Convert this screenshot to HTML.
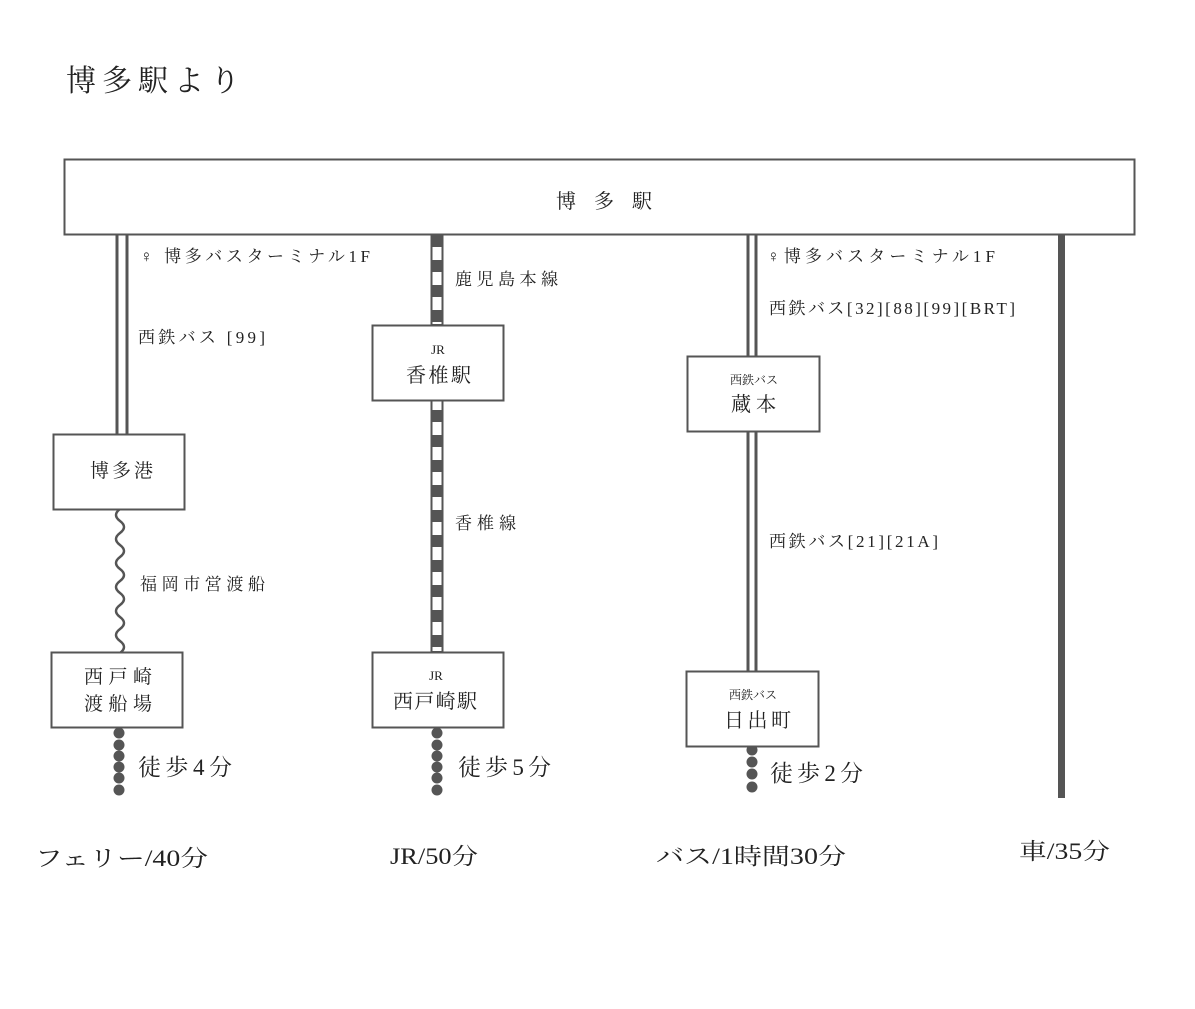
<!DOCTYPE html>
<html><head><meta charset="utf-8"><style>
html,body{margin:0;padding:0;background:#fff}
svg{display:block}
text{font-family:"Liberation Serif","Noto Serif CJK JP","Noto Serif CJK SC",serif;fill:#222}
</style></head><body>
<svg width="1195" height="1009" viewBox="0 0 1195 1009" xmlns="http://www.w3.org/2000/svg">
<defs>
<pattern id="rail" x="0" y="235" width="12" height="25" patternUnits="userSpaceOnUse">
<rect x="0" y="0" width="12" height="12" fill="#555"/>
<rect x="0" y="12" width="12" height="13" fill="#fff"/>
</pattern>
</defs>
<text x="66" y="91" font-size="30" textLength="174" lengthAdjust="spacing">博多駅より</text>
<rect x="64.5" y="159.5" width="1070" height="75" fill="#fff" stroke="#555" stroke-width="2"/>
<text x="556" y="208" font-size="20" textLength="96" lengthAdjust="spacing">博多駅</text>

<g stroke="#555" stroke-width="3">
<line x1="117" y1="235" x2="117" y2="434"/><line x1="127" y1="235" x2="127" y2="434"/>
<line x1="748" y1="235" x2="748" y2="356"/><line x1="756" y1="235" x2="756" y2="356"/>
<line x1="748" y1="431" x2="748" y2="671"/><line x1="756" y1="431" x2="756" y2="671"/>
</g>
<path d="M120 509 q-8 6 0 12 q8 6 0 12 q-8 6 0 12 q8 6 0 12 q-8 6 0 12 q8 6 0 12 q-8 6 0 12 q8 6 0 12 q-8 6 0 12 q8 6 0 12 q-8 6 0 12 q8 6 0 12 l0 11" fill="none" stroke="#555" stroke-width="2.5"/>
<rect x="53.5" y="434.5" width="131" height="75" fill="#fff" stroke="#555" stroke-width="2"/>
<text x="90" y="477" font-size="19" textLength="63" lengthAdjust="spacing">博多港</text>
<rect x="51.5" y="652.5" width="131" height="75" fill="#fff" stroke="#555" stroke-width="2"/>
<text x="84" y="683" font-size="19" textLength="68" lengthAdjust="spacing">西戸崎</text>
<text x="84" y="710" font-size="19" textLength="68" lengthAdjust="spacing">渡船場</text>
<g fill="#555">
<circle cx="119" cy="733" r="5.5"/><circle cx="119" cy="745" r="5.5"/><circle cx="119" cy="756" r="5.5"/><circle cx="119" cy="767" r="5.5"/><circle cx="119" cy="778" r="5.5"/><circle cx="119" cy="790" r="5.5"/>
<circle cx="437" cy="733" r="5.5"/><circle cx="437" cy="745" r="5.5"/><circle cx="437" cy="756" r="5.5"/><circle cx="437" cy="767" r="5.5"/><circle cx="437" cy="778" r="5.5"/><circle cx="437" cy="790" r="5.5"/>
<circle cx="752" cy="750" r="5.5"/><circle cx="752" cy="762" r="5.5"/><circle cx="752" cy="774" r="5.5"/><circle cx="752" cy="787" r="5.5"/>
</g>
<text x="140" y="262" font-size="17" textLength="230" lengthAdjust="spacing">♀ 博多バスターミナル1F</text>
<text x="138" y="343" font-size="17" textLength="127" lengthAdjust="spacing">西鉄バス [99]</text>
<text x="140" y="590" font-size="17" textLength="125" lengthAdjust="spacing">福岡市営渡船</text>
<text x="138" y="775" font-size="23" textLength="94" lengthAdjust="spacing">徒歩4分</text>

<rect x="431.5" y="235" width="11" height="90" fill="url(#rail)" stroke="#555" stroke-width="2"/>
<rect x="431.5" y="400" width="11" height="252" fill="url(#rail)" stroke="#555" stroke-width="2"/>
<rect x="372.5" y="325.5" width="131" height="75" fill="#fff" stroke="#555" stroke-width="2"/>
<text x="438" y="354" font-size="13" text-anchor="middle">JR</text>
<text x="406" y="382" font-size="20" textLength="65" lengthAdjust="spacing">香椎駅</text>
<rect x="372.5" y="652.5" width="131" height="75" fill="#fff" stroke="#555" stroke-width="2"/>
<text x="436" y="680" font-size="13" text-anchor="middle">JR</text>
<text x="393" y="708" font-size="20" textLength="84" lengthAdjust="spacing">西戸崎駅</text>
<text x="455" y="285" font-size="17" textLength="103" lengthAdjust="spacing">鹿児島本線</text>
<text x="455" y="529" font-size="17" textLength="61" lengthAdjust="spacing">香椎線</text>
<text x="458" y="775" font-size="23" textLength="93" lengthAdjust="spacing">徒歩5分</text>

<rect x="687.5" y="356.5" width="132" height="75" fill="#fff" stroke="#555" stroke-width="2"/>
<text x="754" y="384" font-size="12" text-anchor="middle">西鉄バス</text>
<text x="731" y="411" font-size="20" textLength="45" lengthAdjust="spacing">蔵本</text>
<rect x="686.5" y="671.5" width="132" height="75" fill="#fff" stroke="#555" stroke-width="2"/>
<text x="753" y="699" font-size="12" text-anchor="middle">西鉄バス</text>
<text x="724" y="727" font-size="20" textLength="67" lengthAdjust="spacing">日出町</text>
<text x="767" y="262" font-size="17" textLength="228" lengthAdjust="spacing">♀博多バスターミナル1F</text>
<text x="769" y="314" font-size="17" textLength="246" lengthAdjust="spacing">西鉄バス[32][88][99][BRT]</text>
<text x="769" y="547" font-size="17" textLength="169" lengthAdjust="spacing">西鉄バス[21][21A]</text>
<text x="770" y="781" font-size="23" textLength="93" lengthAdjust="spacing">徒歩2分</text>

<rect x="1058" y="235" width="7" height="563" fill="#555"/>

<text x="35" y="866" font-size="23" textLength="173" lengthAdjust="spacingAndGlyphs">フェリー/40分</text>
<text x="390" y="864" font-size="23" textLength="88" lengthAdjust="spacingAndGlyphs">JR/50分</text>
<text x="656" y="864" font-size="23" textLength="190" lengthAdjust="spacingAndGlyphs">バス/1時間30分</text>
<text x="1019" y="859" font-size="23" textLength="91" lengthAdjust="spacingAndGlyphs">車/35分</text>
</svg>
</body></html>
